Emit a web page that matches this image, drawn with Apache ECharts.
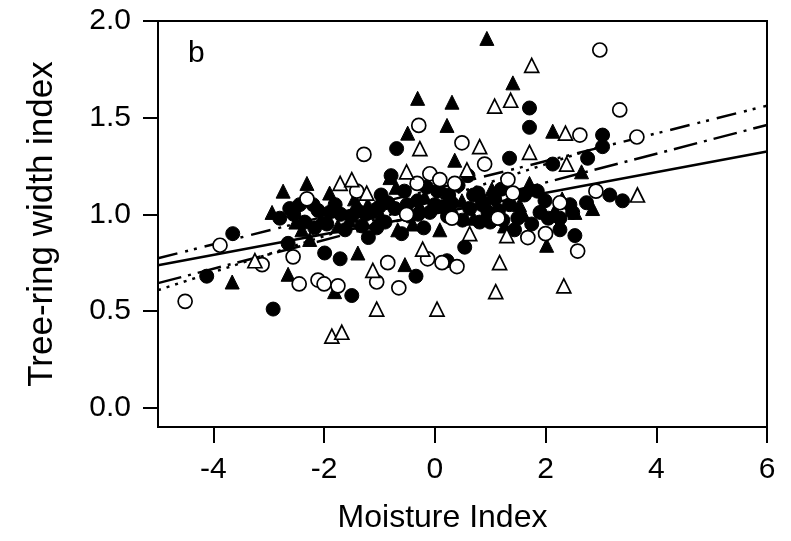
<!DOCTYPE html>
<html>
<head>
<meta charset="utf-8">
<script src="https://cdn.jsdelivr.net/npm/echarts@6/dist/echarts.min.js"></script>
<style>
html,body{margin:0;padding:0;background:#fff;}
#c{width:791px;height:541px;}
</style>
</head>
<body>
<div id="c"></div>
<script>
// Tick values
var xTicks = [-4, -2, 0, 2, 4, 6];
var yTicks = [0, 0.5, 1.0, 1.5, 2.0];

// Filled circles
var filledCircles = [
  [-0.69,1.34],[-0.79,1.20],[-0.97,1.10],[1.71,1.55],[1.71,1.45],[1.35,1.29],[2.13,1.26],
  [2.76,1.29],[3.03,1.41],[3.03,1.35],[3.16,1.10],[3.39,1.07],[2.74,1.06],[2.49,1.01],
  [2.26,0.98],[2.53,0.89],[2.26,0.92],[1.90,1.01],[1.75,0.95],[1.44,0.92],[1.23,0.97],
  [0.81,0.96],[0.54,0.83],[2.44,1.05],[-3.65,0.90],[-4.12,0.68],[-2.92,0.51],[-2.62,1.03],
  [-2.65,0.85],[-1.99,0.80],[-2.11,1.02],[-1.50,0.58],[-0.34,0.68],[-1.71,0.77],[0.22,0.76],
  [-2.80,0.98],[-2.44,1.05],[-2.17,0.93],[-1.90,1.01],[-1.62,0.92],[-1.50,0.99],[-1.32,0.94],
  [-1.14,1.01],[-0.90,0.96],[-0.72,1.03],[-0.45,0.99],[-0.31,1.07],[-0.09,1.01],[0.05,1.12],
  [0.23,0.99],[0.42,1.15],[0.63,1.03],[0.78,1.11],[0.96,1.01],[1.08,1.08],[1.35,1.05],
  [1.62,1.10],[1.99,1.07],[0.60,1.20],[-0.55,1.12],[-1.20,0.88],[0.30,1.06],[-2.35,0.96],
  [-1.80,1.05],[-0.20,0.93],[1.20,1.13],[0.00,1.05],[-0.60,0.90],[-1.00,1.04],
  [-2.55,1.00],[-2.20,1.05],[-1.95,0.95],[-1.70,1.00],[-1.40,1.02],[-1.05,0.93],[-0.85,1.06],
  [-0.30,1.00],[0.15,1.04],[0.50,0.97],[0.85,1.05],[1.15,1.02],[1.50,0.98],[1.85,1.12],
  [2.05,0.98],[-0.15,1.14],[0.25,1.10],[-1.25,1.00],[-0.50,1.05],[0.70,1.10],[1.00,0.96]
];

// Filled triangles
var filledTriangles = [
  [0.94,1.91],[-0.31,1.60],[0.31,1.58],[0.22,1.46],[1.41,1.68],[-0.49,1.42],[2.13,1.43],
  [-2.74,1.12],[-2.31,1.16],[-1.90,1.11],[-3.66,0.65],[-2.65,0.69],[-1.39,0.80],[-1.81,0.60],
  [-0.54,0.74],[2.02,0.84],[2.85,1.03],[1.71,1.16],[2.65,1.22],[0.36,1.28],[-0.81,1.19],
  [-2.94,1.01],[-2.51,0.96],[-1.75,0.94],[-1.21,1.05],[-0.67,0.92],[-0.18,1.09],[0.49,1.07],
  [1.03,1.13],[1.53,1.05],[2.17,1.02],[2.53,1.01],[0.09,0.92],[-2.26,0.87],[1.26,0.94],
  [-1.45,1.08],[-0.95,0.98],[0.70,0.98],[-2.05,0.98],[-0.40,0.95],
  [-2.40,0.92],[-1.55,0.97],[-1.00,0.98],[-0.25,1.03],[0.35,1.01],[0.90,1.07],[1.60,1.00],
  [2.30,1.08],[-0.70,1.14],[0.10,1.15]
];

// Open circles
var openCircles = [
  [2.98,1.85],[3.34,1.54],[3.65,1.40],[2.62,1.41],[-1.28,1.31],[-0.29,1.46],[-4.51,0.55],
  [-3.88,0.84],[-3.12,0.74],[-2.56,0.78],[-2.45,0.64],[-2.11,0.66],[-2.00,0.64],[-1.75,0.63],
  [-2.31,1.08],[-1.05,0.65],[-0.85,0.75],[-0.65,0.62],[-0.13,0.77],[0.13,0.75],[0.40,0.73],
  [0.31,0.98],[2.58,0.81],[2.00,0.90],[1.68,0.88],[1.41,1.11],[2.26,1.06],[2.91,1.12],
  [1.14,0.98],[-1.41,1.12],[-0.32,1.16],[-0.09,1.21],[0.09,1.18],[0.36,1.16],[0.49,1.37],
  [-0.51,1.00],[0.90,1.26],[1.32,1.18]
];

// Open triangles
var openTriangles = [
  [1.75,1.77],[1.08,1.56],[1.37,1.59],[2.36,1.42],[1.71,1.32],[0.81,1.35],[0.58,1.23],
  [2.38,1.26],[-0.27,1.34],[-1.71,1.16],[-1.50,1.18],[-0.51,1.22],[-1.86,0.37],[-1.68,0.39],
  [-1.05,0.51],[0.04,0.51],[-1.12,0.71],[-0.22,0.82],[1.17,0.75],[1.10,0.60],[2.33,0.63],
  [0.63,0.90],[3.66,1.10],[1.30,0.89],[-3.25,0.76],[-1.23,1.11]
];

// Regression lines (endpoints)
var lineSolid = [[-5,0.737],[6,1.325]];
var lineDashDotDot = [[-5,0.773],[6,1.562]];
var lineDashDot = [[-5,0.644],[6,1.462]];
var lineDotted = [[-5,0.608],[3.0,1.352]];

var FONT = 'Liberation Sans, Arial, sans-serif';

function lineSeries(data, type) {
  return {
    type: 'line', data: data, symbol: 'none', silent: true, z: 1,
    lineStyle: {color: '#000', width: 2.5, type: type},
    animation: false
  };
}
function scatter(data, symbol, filled) {
  return {
    type: 'scatter', data: data, symbol: symbol, symbolSize: 14, z: filled ? 2 : 3,
    itemStyle: filled ? {color: '#000', borderColor: '#000', borderWidth: 1, opacity: 1}
                      : {color: '#fff', borderColor: '#000', borderWidth: 1.7, opacity: 1},
    emphasis: {disabled: true}, silent: true, animation: false
  };
}

var chart = echarts.init(document.getElementById('c'), null, {renderer: 'canvas'});
chart.setOption({
  backgroundColor: '#fff',
  animation: false,
  title: {
    text: 'b', left: 188, top: 39, padding: 0,
    textStyle: {fontFamily: FONT, fontSize: 30, fontWeight: 'normal', color: '#000'}
  },
  grid: {left: 158, right: 24, top: 21, bottom: 114, show: true, borderColor: '#000', borderWidth: 2, backgroundColor: 'transparent'},
  xAxis: {
    type: 'value', min: -5, max: 6,
    name: 'Moisture Index', nameLocation: 'middle', nameGap: 75,
    nameTextStyle: {fontFamily: FONT, fontSize: 32, color: '#000', padding: [0, 40, 0, 0]},
    axisLine: {show: true, onZero: false, lineStyle: {color: '#000', width: 2}},
    axisTick: {show: true, inside: false, length: 16, customValues: xTicks, lineStyle: {color: '#000', width: 2}},
    axisLabel: {customValues: xTicks, fontFamily: FONT, fontSize: 30, color: '#000', margin: 28},
    splitLine: {show: false}
  },
  yAxis: {
    type: 'value', min: -0.1, max: 2.0,
    name: 'Tree-ring width index', nameLocation: 'middle', nameGap: 98,
    nameTextStyle: {fontFamily: FONT, fontSize: 35, color: '#000', padding: [0, 0, 0, 0]},
    axisLine: {show: true, onZero: false, lineStyle: {color: '#000', width: 2}},
    axisTick: {show: true, inside: false, length: 15, customValues: yTicks, lineStyle: {color: '#000', width: 2}},
    axisLabel: {customValues: yTicks, fontFamily: FONT, fontSize: 30, color: '#000', margin: 27,
      formatter: function (v) { return v.toFixed(1); }},
    splitLine: {show: false}
  },
  series: [
    lineSeries(lineSolid, 'solid'),
    lineSeries(lineDashDotDot, [20, 8, 3, 6, 3, 8]),
    lineSeries(lineDashDot, [24, 7, 3, 7]),
    lineSeries(lineDotted, [3, 6]),
    scatter(filledCircles, 'circle', true),
    scatter(filledTriangles, 'triangle', true),
    scatter(openCircles, 'circle', false),
    scatter(openTriangles, 'triangle', false)
  ]
});
</script>
</body>
</html>
